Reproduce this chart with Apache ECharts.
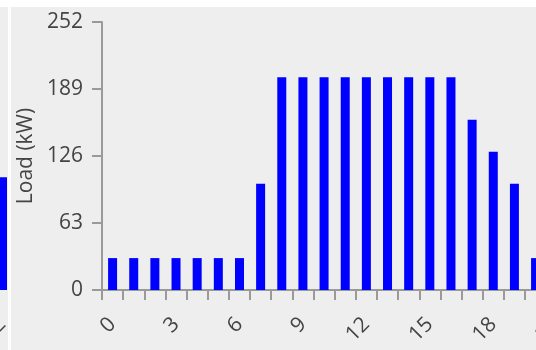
<!DOCTYPE html>
<html>
<head>
<meta charset="utf-8">
<style>
html,body{margin:0;padding:0;background:#fff;}
#chart{width:536px;height:350px;}
</style>
<script src="https://cdn.jsdelivr.net/npm/echarts@6/dist/echarts.min.js"></script>
</head>
<body>
<div id="chart"></div>
<script>
var hours = ['0','1','2','3','4','5','6','7','8','9','10','11','12','13','14','15','16','17','18','19','20','21','22','23'];
var load = [30,30,30,30,30,30,30,100,200,200,200,200,200,200,200,200,200,160,130,100,30,30,30,30];
var yTicks = [0,63,126,189,252];
var leftCats = ['2'];
var leftLoad = [106];

var chart = echarts.init(document.getElementById('chart'), null, {renderer:'canvas'});
var fontFam = "'Open Sans', 'Noto Sans', sans-serif";
var option = {
  backgroundColor: '#ffffff',
  animation: false,
  graphic: [
    {type:'rect', z:-10, silent:true, shape:{x:0,y:7,width:8,height:343}, style:{fill:'#eeeeee'}},
    {type:'rect', z:-10, silent:true, shape:{x:11,y:7,width:525,height:343}, style:{fill:'#eeeeee'}}
  ],
  grid: [
    {left:102, top:22, width:507.6, height:268, containLabel:false, outerBoundsMode:'none'},
    {left:-6.5, top:22, width:18, height:268, containLabel:false, outerBoundsMode:'none'}
  ],
  xAxis: [
    {
      type:'category', gridIndex:0, data:hours,
      boundaryGap:true,
      axisLine:{show:true, lineStyle:{color:'#9a9a9a', width:2}},
      axisTick:{show:true, length:10, alignWithLabel:false, interval:0, lineStyle:{color:'#9a9a9a', width:2}},
      axisLabel:{interval:2, rotate:45, margin:31, color:'#444', fontSize:21, fontFamily:fontFam},
      splitLine:{show:false}
    },
    {
      type:'category', gridIndex:1, data:leftCats,
      axisLine:{show:false}, axisTick:{show:false},
      axisLabel:{interval:0, rotate:45, margin:31, color:'#444', fontSize:21, fontFamily:fontFam}
    }
  ],
  yAxis: [
    {
      type:'value', gridIndex:0, min:yTicks[0], max:yTicks[yTicks.length-1], interval:63,
      name:'Load (kW)', nameLocation:'middle', nameGap:60,
      nameTextStyle:{color:'#444', fontSize:21, fontFamily:fontFam},
      axisLine:{show:true, lineStyle:{color:'#9a9a9a', width:2}},
      axisTick:{show:true, length:10, lineStyle:{color:'#9a9a9a', width:2}},
      axisLabel:{margin:19, color:'#444', fontSize:21, fontFamily:fontFam},
      splitLine:{show:false}
    },
    {type:'value', gridIndex:1, min:0, max:252, show:false}
  ],
  series: [
    {type:'bar', xAxisIndex:0, yAxisIndex:0, data:load, barWidth:9, itemStyle:{color:'#0000ff'}},
    {type:'bar', xAxisIndex:1, yAxisIndex:1, data:leftLoad, barWidth:9, itemStyle:{color:'#0000ff'}}
  ]
};
chart.setOption(option);
</script>
</body>
</html>
